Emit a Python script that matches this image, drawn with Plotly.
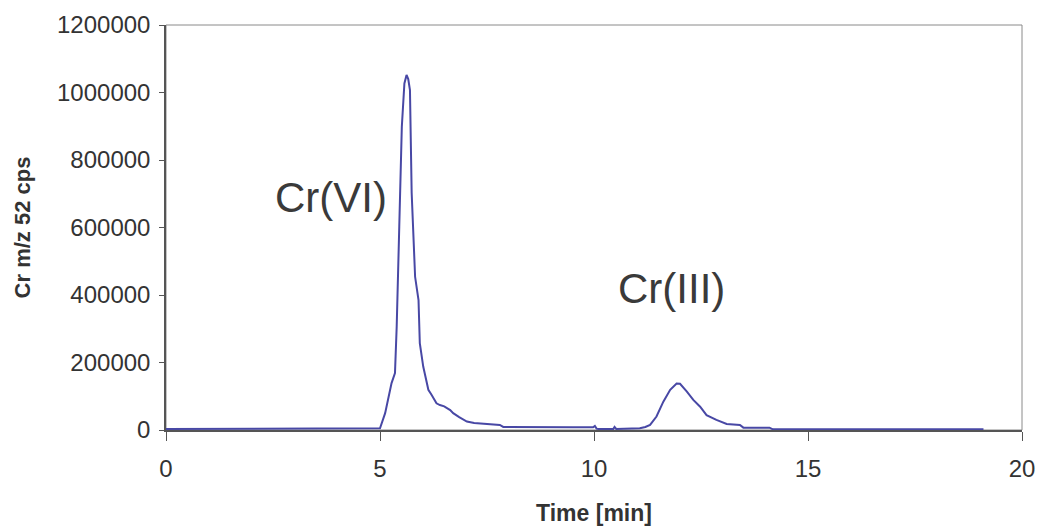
import plotly.graph_objects as go

time_min = [0.0, 1.0, 2.0, 3.0, 4.0, 4.9, 5.0, 5.12, 5.2, 5.27, 5.35, 5.39, 5.45, 5.51, 5.57, 5.62, 5.66, 5.70,
            5.74, 5.82, 5.90, 5.93, 6.01, 6.13, 6.2, 6.32, 6.4, 6.5, 6.64, 6.71, 6.85, 6.95, 7.03, 7.2, 7.34,
            7.8, 7.88, 8.5, 9.0, 9.5, 9.98, 10.02, 10.06, 10.1, 10.45, 10.48, 10.52, 11.0, 11.07, 11.2, 11.31,
            11.46, 11.62, 11.78, 11.93, 12.01, 12.17, 12.32, 12.48, 12.63, 12.86, 13.1, 13.41, 13.49, 14.1,
            14.18, 15.0, 16.0, 17.0, 18.0, 19.1]
counts = [3000, 3000, 3000, 3000, 3000, 3000, 5000, 50000, 100000, 139000, 169000, 306000, 602000, 899000,
          1027000, 1052000, 1040000, 1007000,
          702000, 454000, 385000, 257000, 188000, 119000, 105000, 79000, 74000, 70000, 59000, 50000, 38000,
          30000, 25000, 21000, 20000,
          15000, 9000, 8000, 8000, 8000, 8000, 12000, 4000, 3000, 3000, 9000, 3000, 3000, 5000, 9000, 15000,
          40000, 84000, 119000, 138000, 137000, 114000, 89000, 69000, 44000, 30000, 18000, 15000, 7000, 7000,
          2000, 2000, 2000, 2000, 2000, 2000]

x_ticks = [0, 5, 10, 15, 20]
y_ticks = [0, 200000, 400000, 600000, 800000, 1000000, 1200000]
y_tick_text = ["0", "200000", "400000", "600000", "800000", "1000000", "1200000"]

peak_labels = ["Cr(VI)", "Cr(III)"]
peak_label_x = [3.85, 11.82]
peak_label_y = [690000, 420000]

FONT = "Liberation Sans, Arial, sans-serif"

fig = go.Figure()
fig.add_trace(go.Scatter(x=time_min, y=counts, mode="lines",
                         line=dict(color="rgb(72,72,165)", width=2), showlegend=False))

for t, px, py in zip(peak_labels, peak_label_x, peak_label_y):
    fig.add_annotation(x=px, y=py, text=t, showarrow=False,
                       font=dict(family=FONT, size=42, color="#3a3a3a"))

fig.add_shape(type="rect", xref="paper", yref="paper", x0=0, y0=0, x1=1, y1=1,
              line=dict(color="#8a8a8a", width=1), layer="below")

fig.update_layout(
    width=1039, height=526,
    margin=dict(l=166, r=17, t=25, b=96, autoexpand=False),
    paper_bgcolor="white", plot_bgcolor="white",
    font=dict(family=FONT, color="#333333"),
    xaxis=dict(range=[0, 20], tickvals=x_ticks, showgrid=False, zeroline=False, automargin=False,
               showline=True, linecolor="#555555", linewidth=1.5, ticks="outside", ticklen=9,
               tickcolor="#555555", tickfont=dict(size=24, color="#333333"), ticklabelstandoff=7,
               title=dict(text="<b>Time [min]</b>", font=dict(size=23, color="#333333"), standoff=24)),
    yaxis=dict(range=[0, 1200000], tickvals=y_ticks, ticktext=y_tick_text,
               showgrid=False, zeroline=False, automargin=False,
               showline=True, linecolor="#555555", linewidth=1.5, ticks="outside", ticklen=5,
               tickcolor="#555555", tickfont=dict(size=24, color="#333333"), ticklabelstandoff=4,
               title=dict(text="<b>Cr m/z 52 cps</b>", font=dict(size=22, color="#333333"), standoff=20)),
)

fig.write_html("out.html", config={"displayModeBar": False},
               post_script="document.body.style.margin='0';document.body.style.padding='0';")
